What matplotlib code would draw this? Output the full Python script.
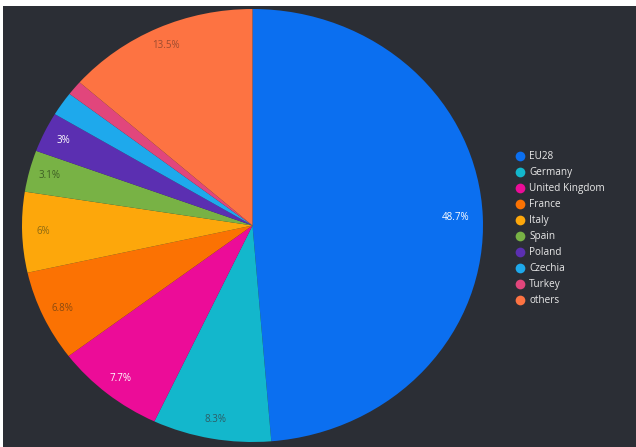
import matplotlib
matplotlib.use('Agg')
from matplotlib import pyplot as plt
from matplotlib.lines import Line2D
from matplotlib.patches import Rectangle
import numpy as np

# data
names = ['EU28', 'Germany', 'United Kingdom', 'France', 'Italy',
         'Spain', 'Poland', 'Czechia', 'Turkey', 'others']
shares = [48.7, 8.3, 7.7, 6.8, 6.0, 3.1, 3.0, 1.8, 1.1, 13.5]
pct_texts = ['48.7%', '8.3%', '7.7%', '6.8%', '6%', '3.1%', '3%', '', '', '13.5%']

colors = ['#0b6ff0', '#13b7cc', '#ec0c98', '#fb7203', '#fda70b',
          '#78b245', '#5b2fb1', '#1ea9ec', '#e1467c', '#fd7342']
label_colors = ['white', '#2d5d66', 'white', '#8a4a10', '#8d6a12',
                '#3e5e25', 'white', 'white', 'white', '#9c4c30']

bg = '#2b2e35'

fig = plt.figure(figsize=(6.36, 4.47), dpi=100)
fig.patch.set_facecolor(bg)
# thin white margin along the top and left edges
fig.patches.append(Rectangle((0, 1 - 6 / 447), 1, 6 / 447, transform=fig.transFigure,
                             facecolor='white', edgecolor='none', zorder=0))
fig.patches.append(Rectangle((0, 0), 3 / 636, 1, transform=fig.transFigure,
                             facecolor='white', edgecolor='none', zorder=0))

ax = fig.add_axes([22 / 636, 5 / 447, 461 / 636, 433 / 447])
ax.set_facecolor(bg)
wedges, _ = ax.pie(shares, colors=colors, startangle=90, counterclock=False,
                   radius=1.0, wedgeprops=dict(linewidth=0))
ax.set_aspect('auto')  # the reference pie is slightly stretched sideways
ax.set_xlim(-1.0, 1.0)
ax.set_ylim(-1.0, 1.0)
ax.axis('off')

# percentage labels inside the slices
total = sum(shares)
start = 0.0
for share, txt, col in zip(shares, pct_texts, label_colors):
    mid = start + share / 2
    ang = np.deg2rad(90 - 360 * mid / total)
    start += share
    if txt:
        r = 0.88 if share > 20 else 0.91
        ax.text(r * np.cos(ang), r * np.sin(ang), txt, color=col, fontsize=7,
                family='Open Sans', ha='center', va='center')

handles = [Line2D([], [], marker='o', linestyle='none', markersize=7,
                  markerfacecolor=c, markeredgecolor='none') for c in colors]
leg = fig.legend(handles, names, loc='upper left',
                 bbox_to_anchor=(509 / 636, 1 - 146 / 447),
                 frameon=False, prop={'family': 'Open Sans', 'size': 7.2},
                 labelcolor='#e8e8e8', handletextpad=0.3, labelspacing=0.5,
                 handlelength=1.2, borderpad=0)

fig.savefig('out.png', dpi=100, facecolor=fig.get_facecolor())
